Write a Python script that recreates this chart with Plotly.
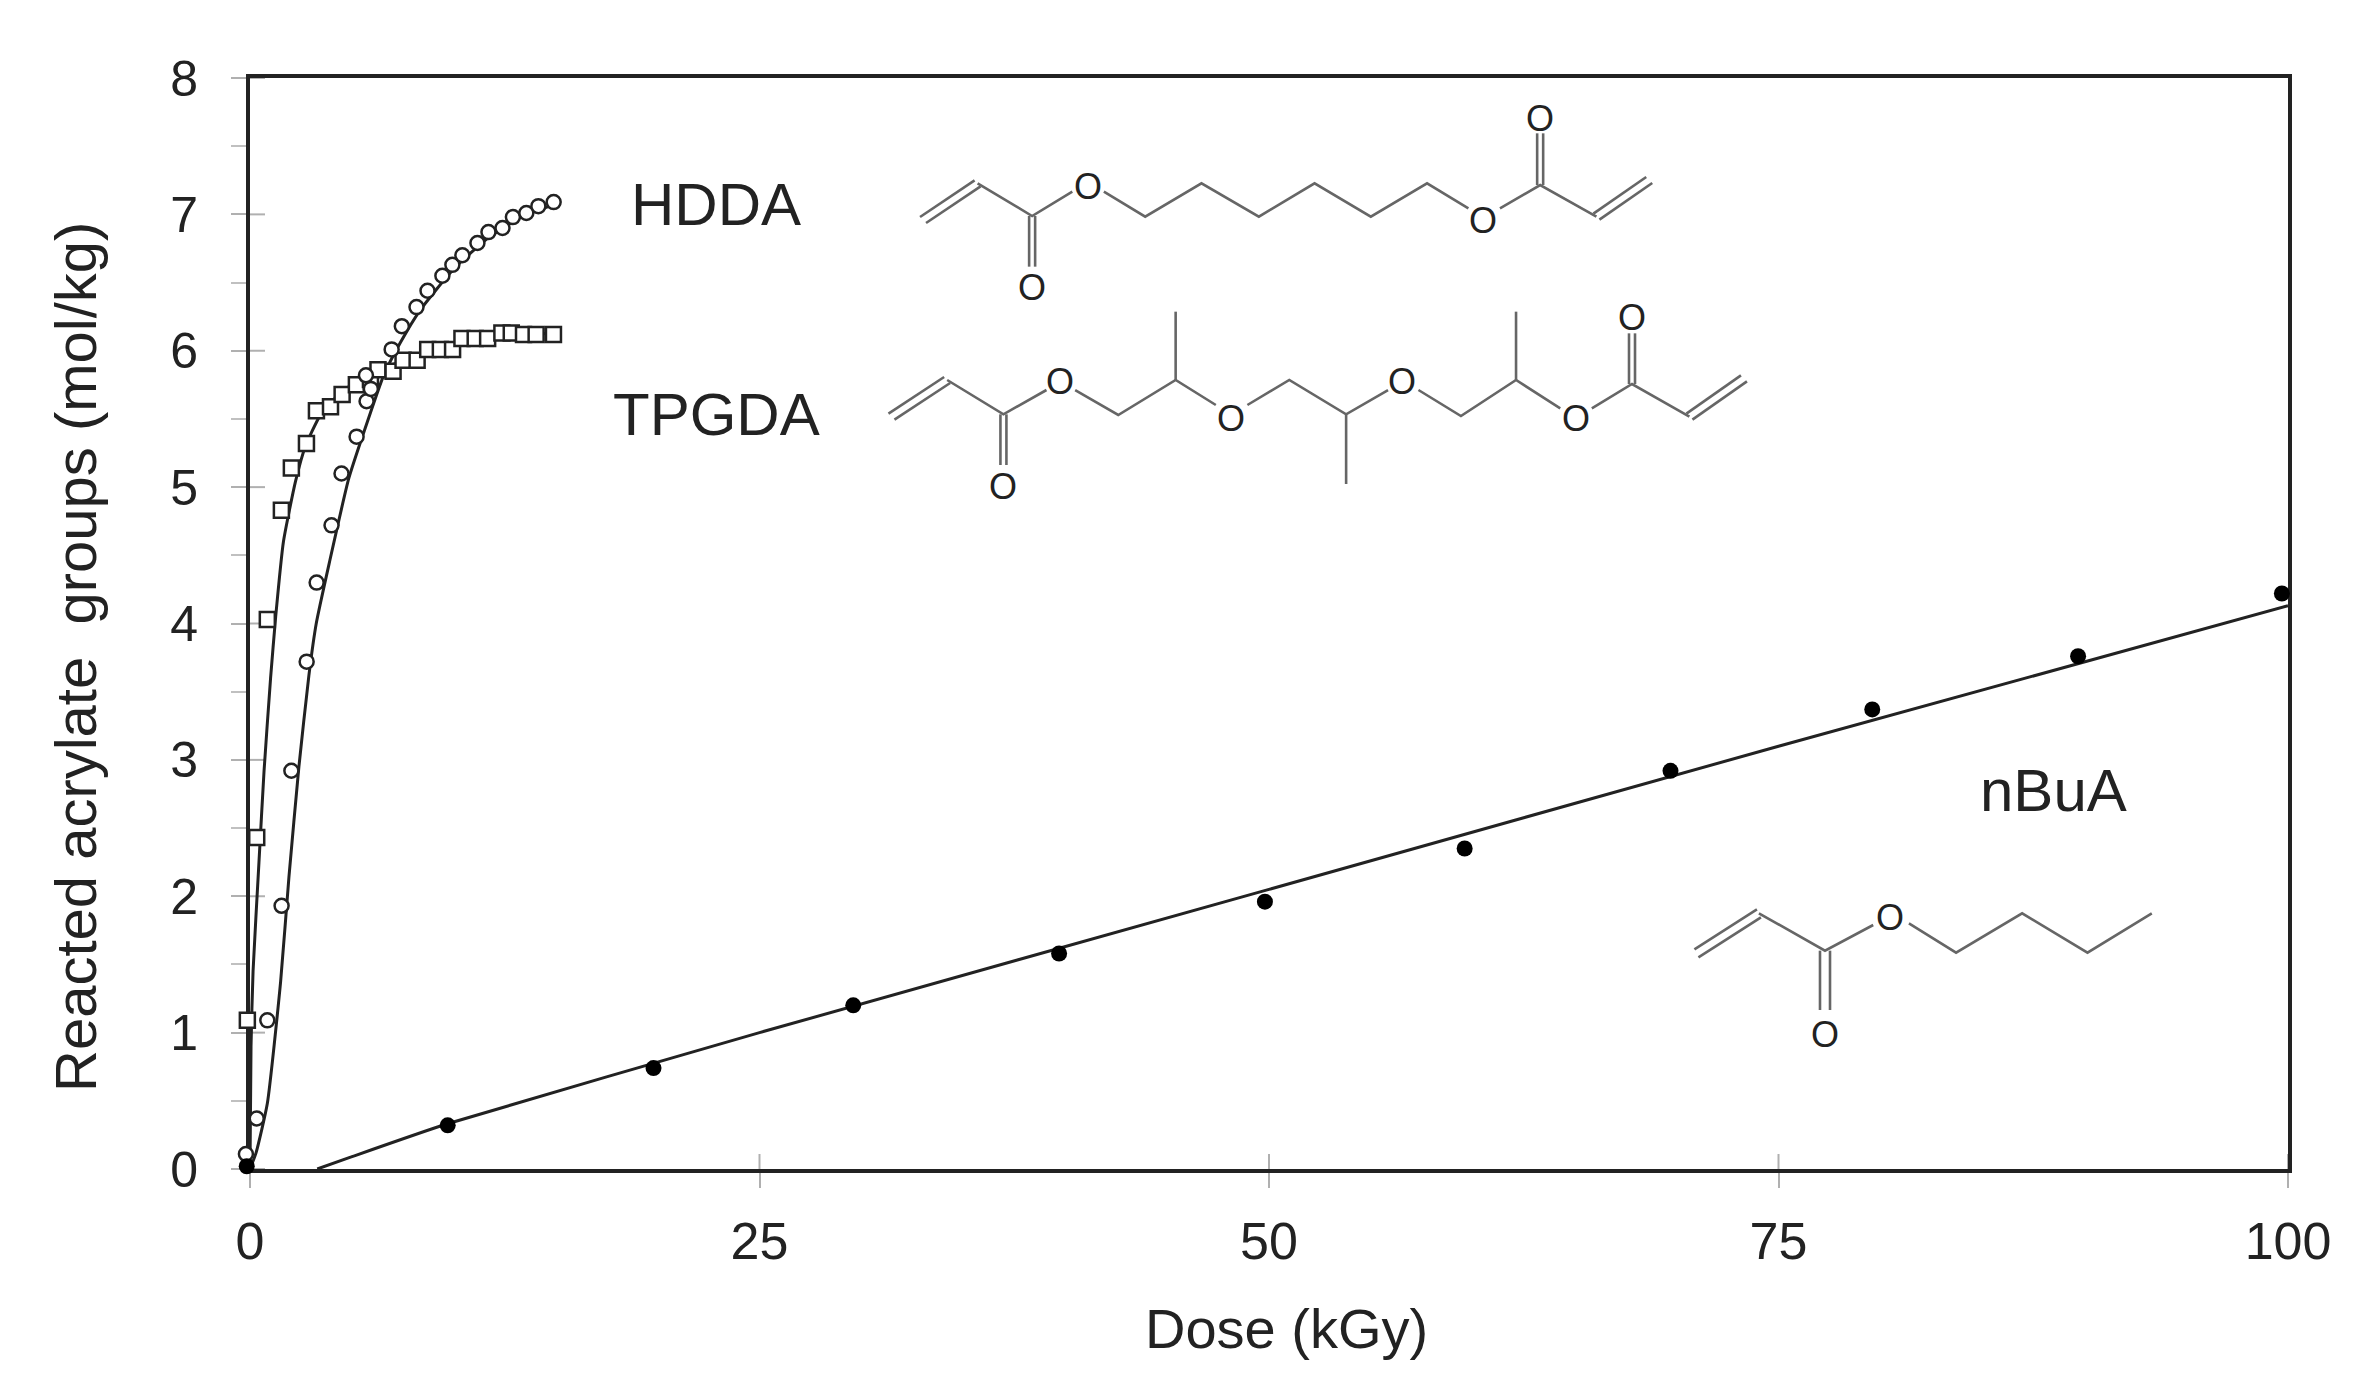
import plotly.graph_objects as go

# HDDA
hdda_x = [-0.2, 0.33, 0.85, 1.55, 2.03, 2.78, 3.27, 4.0, 4.49, 5.23, 5.72, 5.93, 5.69, 6.95, 7.45,
          8.17, 8.71, 9.44, 9.93, 10.42, 11.16, 11.7, 12.39, 12.9, 13.56, 14.15, 14.9]
hdda_y = [0.11, 0.37, 1.09, 1.93, 2.92, 3.72, 4.3, 4.72, 5.10, 5.37, 5.63, 5.72, 5.82, 6.01, 6.18,
          6.32, 6.44, 6.55, 6.63, 6.70, 6.79, 6.87, 6.90, 6.98, 7.01, 7.06, 7.09]
hdda_fit_x = [0, 0.3, 0.85, 1.5, 1.91, 2.4, 2.89, 3.25, 3.9, 4.84, 5.58, 6.56, 7.38, 8.36, 9.99, 11.63, 13.26, 14.89]
hdda_fit_y = [0, 0.12, 0.48, 1.37, 2.14, 2.95, 3.62, 4.0, 4.45, 5.06, 5.4, 5.82, 6.06, 6.3, 6.6, 6.82, 6.98, 7.07]

# TPGDA
tpgda_x = [-0.13, 0.33, 0.85, 1.54, 2.03, 2.77, 3.26, 3.95, 4.52, 5.22, 5.91, 6.28, 7.02, 7.51, 8.2,
           8.72, 9.34, 9.94, 10.4, 11.05, 11.66, 12.36, 12.82, 13.42, 14.04, 14.89]
tpgda_y = [1.09, 2.43, 4.03, 4.83, 5.14, 5.32, 5.56, 5.59, 5.68, 5.75, 5.79, 5.86, 5.85, 5.93, 5.93,
           6.01, 6.01, 6.01, 6.09, 6.09, 6.09, 6.13, 6.13, 6.12, 6.12, 6.12]
tpgda_fit_x = [0, 0.05, 0.15, 0.44, 0.69, 1.01, 1.26, 1.64, 2.23, 2.72, 3.46, 4.5, 6.0, 8.0, 10.0, 12.5, 14.9]
tpgda_fit_y = [0, 0.9, 1.45, 2.25, 2.92, 3.6, 4.05, 4.6, 5.04, 5.3, 5.53, 5.7, 5.84, 5.95, 6.03, 6.1, 6.13]

# nBuA
nbua_x = [-0.16, 9.7, 19.8, 29.6, 39.7, 49.8, 59.6, 69.7, 79.6, 89.7, 99.7]
nbua_y = [0.02, 0.32, 0.74, 1.2, 1.58, 1.96, 2.35, 2.92, 3.37, 3.76, 4.22]
nbua_fit_x = [3.3, 4.9, 9.65, 25, 50, 75, 100]
nbua_fit_y = [0, 0.085, 0.33, 1.0, 2.05, 3.1, 4.13]

x_ticks = [0, 25, 50, 75, 100]
y_ticks = [0, 1, 2, 3, 4, 5, 6, 7, 8]

INK = "#222222"
BOND = "#666666"
FONT = "Liberation Sans, Arial, sans-serif"

# plot box in page pixels; PAD is room left of x=0 so markers just left of the
# axis are still drawn (they sit on a hidden second x axis that starts earlier)
L, R, T, B = 250, 2288, 78, 1169
PAD = 40
PX_PER_X = (R - L) / 100


def xp(px):
    return (px - (L - PAD)) / (R - L + PAD)


def yp(py):
    return (B - py) / (B - T)


shapes = []
notes = []


def bond(pts):
    path = "M " + " L ".join(f"{xp(a):.5f},{yp(b):.5f}" for a, b in pts)
    shapes.append(dict(type="path", path=path, xref="paper", yref="paper", fillcolor="rgba(0,0,0,0)",
                       line=dict(color=BOND, width=2.6), layer="above"))


def double(a, b, dx, dy):
    bond([(a[0] + dx, a[1] + dy), (b[0] + dx, b[1] + dy)])
    bond([(a[0] - dx, a[1] - dy), (b[0] - dx, b[1] - dy)])


def label(text, px, py, size=60, angle=0):
    notes.append(dict(text=text, x=xp(px), y=yp(py), xref="paper", yref="paper", showarrow=False,
                      xanchor="center", yanchor="middle", textangle=angle,
                      font=dict(size=size, color=INK, family=FONT)))


def atom(px, py):
    label("O", px, py, size=36)


# top structures were measured on a crop, hence the scale factors
def m1(p):
    return (880 + p[0] / 1.742, 80 + p[1] / 3)


def m2(p):
    return (1650 + p[0] / 2.8, 860 + p[1] / 3)


# HDDA structure
double(m1((75, 420)), m1((170, 310)), 3, 3)
bond([m1((170, 310)), m1((265, 408)), m1((335, 335))])
double(m1((265, 408)), m1((265, 560)), 3, 0)
atom(*m1((265, 622)))
atom(*m1((362, 318)))
bond([m1(p) for p in [(390, 335), (462, 410), (560, 310), (660, 410), (757, 310), (855, 410), (953, 310), (1025, 385)]])
atom(*m1((1050, 420)))
bond([m1((1080, 385)), m1((1150, 315)), m1((1248, 410))])
double(m1((1150, 315)), m1((1150, 160)), 3, 0)
atom(*m1((1150, 115)))
double(m1((1248, 410)), m1((1340, 300)), 3, 3)

# TPGDA structure
double(m1((20, 1010)), m1((117, 900)), 3, 3)
bond([m1((117, 900)), m1((215, 1003)), m1((290, 930))])
double(m1((215, 1003)), m1((215, 1155)), 3, 0)
atom(*m1((215, 1220)))
atom(*m1((313, 905)))
bond([m1(p) for p in [(340, 930), (415, 1005), (515, 900), (585, 975)]])
bond([m1((515, 900)), m1((515, 695))])
atom(*m1((612, 1015)))
bond([m1(p) for p in [(640, 975), (713, 900), (812, 1003), (885, 930)]])
bond([m1((812, 1003)), m1((812, 1212))])
atom(*m1((910, 905)))
bond([m1(p) for p in [(938, 930), (1012, 1008), (1108, 900), (1185, 985)]])
bond([m1((1108, 900)), m1((1108, 695))])
atom(*m1((1212, 1015)))
bond([m1((1240, 985)), m1((1310, 912)), m1((1410, 1010))])
double(m1((1310, 912)), m1((1310, 760)), 3, 0)
atom(*m1((1310, 712)))
double(m1((1410, 1010)), m1((1505, 895)), 3, 3)

# nBuA structure
double(m2((130, 280)), m2((305, 160)), 2, 4)
bond([m2((305, 160)), m2((490, 272)), m2((625, 195))])
double(m2((490, 272)), m2((490, 450)), 5, 0)
atom(*m2((490, 522)))
atom(*m2((672, 172)))
bond([m2(p) for p in [(725, 190), (857, 278), (1042, 160), (1225, 278), (1405, 160)]])

label("HDDA", 716, 204)
label("TPGDA", 716, 414)
label("nBuA", 2053, 790)
label("Dose (kGy)", 1286, 1328, size=56)
label("Reacted acrylate\u00a0 groups (mol/kg)", 75, 657, size=58, angle=-90)

# major ticks also run a little way inside the frame
for v in y_ticks:
    shapes.append(dict(type="line", xref="x", yref="y", x0=0, x1=15 / PX_PER_X, y0=v, y1=v,
                       line=dict(color="#b0b0b0", width=2), layer="below"))
for v in x_ticks:
    shapes.append(dict(type="line", xref="x", yref="paper", x0=v, x1=v, y0=0, y1=15 / (B - T),
                       line=dict(color="#b0b0b0", width=2), layer="below"))

fig = go.Figure()
for fx, fy in [(hdda_fit_x, hdda_fit_y), (tpgda_fit_x, tpgda_fit_y), (nbua_fit_x, nbua_fit_y)]:
    fig.add_trace(go.Scatter(x=fx, y=fy, mode="lines", showlegend=False, cliponaxis=False,
                             line=dict(color=INK, width=3, shape="spline", smoothing=0.5)))
fig.add_trace(go.Scatter(x=tpgda_x, y=tpgda_y, xaxis="x2", mode="markers", name="TPGDA", cliponaxis=False,
                         marker=dict(symbol="square", size=15, color="white", line=dict(color=INK, width=2.5))))
fig.add_trace(go.Scatter(x=hdda_x, y=hdda_y, xaxis="x2", mode="markers", name="HDDA", cliponaxis=False,
                         marker=dict(symbol="circle", size=14, color="white", line=dict(color=INK, width=2.5))))
fig.add_trace(go.Scatter(x=nbua_x, y=nbua_y, xaxis="x2", mode="markers", name="nBuA", cliponaxis=False,
                         marker=dict(symbol="circle", size=16, color="black")))

fig.update_layout(
    width=2361, height=1384, showlegend=False,
    margin=dict(l=L - PAD, r=2361 - R, t=T, b=1384 - B),
    paper_bgcolor="white", plot_bgcolor="rgba(0,0,0,0)",
    font=dict(family=FONT, color=INK),
    shapes=shapes, annotations=notes,
    xaxis=dict(domain=[PAD / (R - L + PAD), 1], range=[0, 100], tickvals=x_ticks, showgrid=False, zeroline=False,
               showline=True, mirror=True, linecolor=INK, linewidth=4, ticks="outside", ticklen=15, tickwidth=2,
               tickcolor="#b0b0b0", tickfont=dict(size=52, color=INK), ticklabelstandoff=9),
    xaxis2=dict(domain=[0, 1], range=[-PAD / PX_PER_X, 100], anchor="y", visible=False),
    yaxis=dict(range=[0, 8], tickvals=y_ticks, showgrid=False, zeroline=False, showline=True, mirror=True,
               linecolor=INK, linewidth=4, ticks="outside", ticklen=15, tickwidth=2, tickcolor="#b0b0b0",
               tickfont=dict(size=50, color=INK), ticklabelstandoff=23,
               minor=dict(tickvals=[0.5, 1.5, 2.5, 3.5, 4.5, 5.5, 6.5, 7.5], ticks="outside", ticklen=15,
                          tickwidth=2, tickcolor="#c0c0c0", showgrid=False)),
)

fig.write_html("out.html", config=dict(displayModeBar=False), post_script="document.body.style.margin='0';")
